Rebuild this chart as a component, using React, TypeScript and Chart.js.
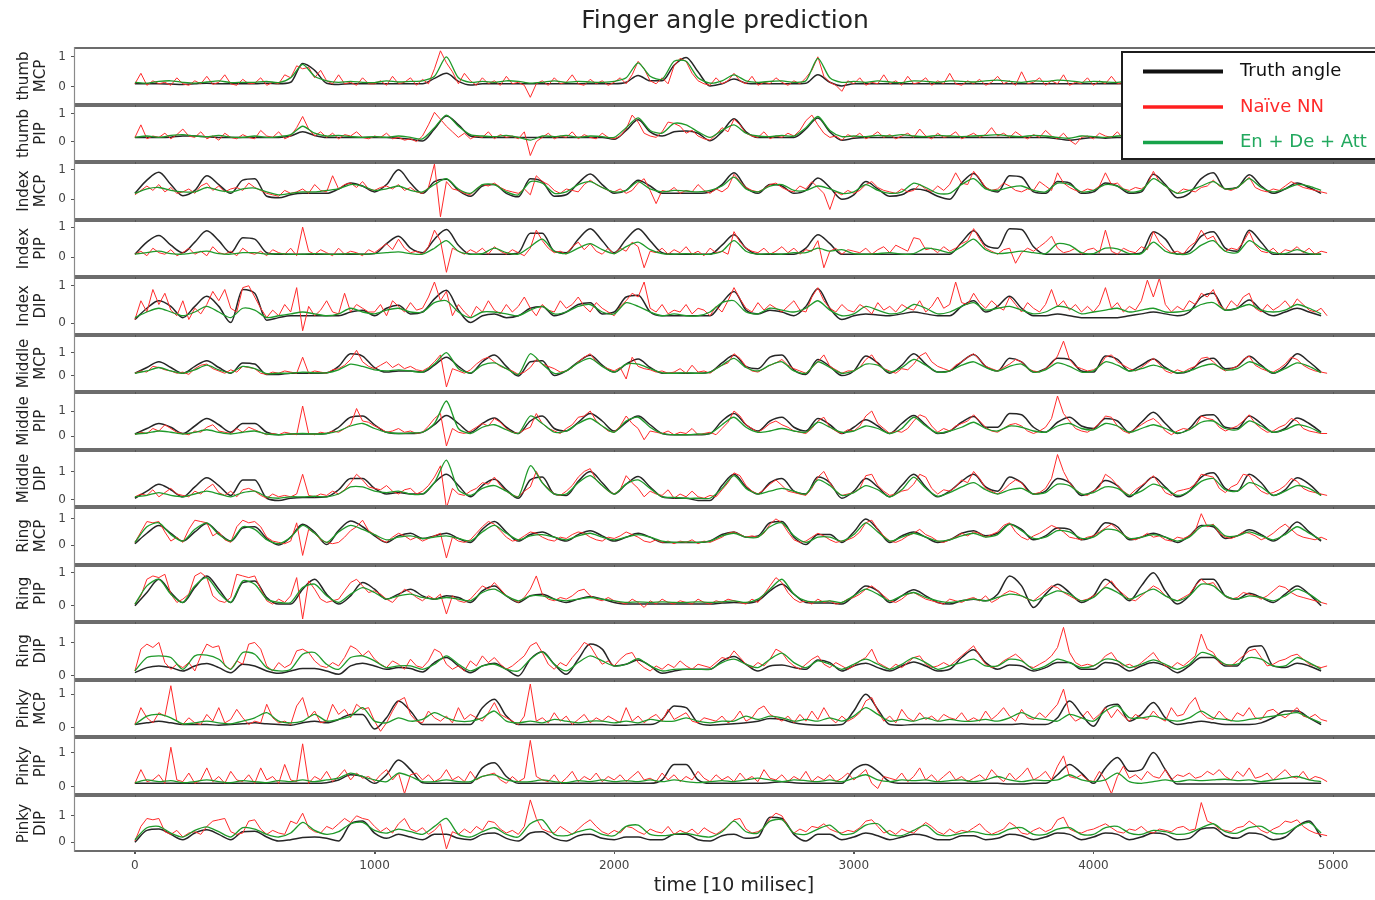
import React, { useEffect, useRef } from 'react';
import { Chart, registerables } from 'chart.js';

Chart.register(...registerables);

// sampling grids (time in 10 ms units)
const TIME_50 = Array.from({ length: 100 }, (_, i) => i * 50);
const TIME_25 = Array.from({ length: 200 }, (_, i) => i * 25);

const X_TICKS = [0, 1000, 2000, 3000, 4000, 5000];
const Y_TICKS = [0, 1];
const TITLE = 'Finger angle prediction';
const X_TITLE = 'time [10 milisec]';
const LEGEND_LABELS = ['Truth angle', 'Naïve NN', 'En + De + Att'];

// ---------------- thumb MCP ----------------
const THUMB_MCP_TRUTH = [
.1,.1,.1,.09,.08,.1,.12,.1,.1,.1,
.1,.12,.1,.15,.78,.55,.12,.08,.1,.1,
.1,.1,.1,.1,.1,.28,.45,.18,.06,.1,
.1,.1,.1,.1,.1,.1,.1,.1,.1,.1,
.1,.15,.38,.2,.2,.72,.98,.5,.03,.1,
.26,.12,.1,.1,.1,.1,.12,.4,.15,.03,
.1,.1,.1,.1,.1,.1,.1,.1,.1,.1,
.1,.1,.1,.1,.1,.1,.1,.1,.1,.1,
.1,.1,.1,.1,.1,.1,.1,.1,.1,.1,
.1,.1,.1,.1,.1,.1,.1,.1,.1,.1];
const THUMB_MCP_ATT = [
.15,.12,.18,.2,.15,.12,.16,.2,.14,.15,
.15,.18,.14,.3,.75,.35,.2,.15,.18,.15,
.14,.2,.16,.18,.2,.35,1.0,.3,.15,.18,
.15,.2,.18,.12,.15,.2,.15,.18,.16,.15,
.18,.3,.8,.35,.25,.85,.85,.3,.12,.2,
.4,.2,.15,.18,.2,.15,.2,.95,.3,.15,
.18,.15,.2,.16,.14,.2,.18,.15,.2,.18,
.16,.2,.22,.18,.15,.2,.18,.22,.2,.15,
.18,.16,.15,.2,.18,.16,.2,.15,.18,.16,
.15,.18,.2,.16,.15,.18,.16,.2,.15,.14];
const THUMB_MCP_NAIVE = [
.1,.45,.05,.2,.1,.15,.05,.3,.1,.05,.2,.1,.35,.08,.15,.4,.1,.05,.25,.1,
.12,.3,.05,.15,.1,.4,.3,.7,.6,.65,.3,.55,.2,.1,.4,.1,.15,.05,.3,.1,
.1,.2,.05,.35,.1,.15,.3,.05,.25,.1,.6,1.2,.8,.5,.1,.45,.2,.05,.3,.1,
.2,.05,.35,.1,.15,.05,-.35,.1,.2,.05,.3,.1,.15,.4,.1,.05,.25,.1,.2,.05,
.15,.3,.1,.4,.85,.6,.2,.1,.3,.1,.7,.95,.85,.45,.2,.1,.05,.3,.1,.2,
.45,.2,.1,.35,.05,.15,.1,.3,.15,.05,.2,.1,.3,.55,1.0,.35,.15,.05,-.15,.2,
.1,.3,.05,.15,.1,.4,.1,.2,.05,.35,.1,.15,.3,.05,.2,.1,.45,.1,.05,.2,
.1,.25,.05,.15,.35,.1,.2,.05,.5,.1,.15,.3,.05,.2,.1,.4,.05,.15,.1,.3,
.05,.2,.1,.35,.1,.15,.05,.3,.1,.2,.05,.4,.1,.15,.3,.05,.2,.1,.3,.1,
.15,.05,.35,.1,.2,.05,.3,.1,.15,.4,.05,.2,.1,.3,.05,.15,.1,.25,.05,.1];

// ---------------- thumb PIP ----------------
const THUMB_PIP_TRUTH = [
.15,.15,.15,.16,.2,.2,.17,.15,.15,.15,
.15,.15,.15,.2,.35,.22,.15,.15,.15,.15,
.15,.15,.12,.08,.02,.45,.92,.6,.2,.15,
.15,.15,.15,.15,.15,.15,.15,.15,.15,.15,
.08,.4,.78,.35,.2,.35,.38,.3,.03,.35,
.82,.35,.15,.15,.15,.15,.45,.85,.35,.05,
.12,.15,.15,.15,.15,.15,.15,.15,.15,.15,
.15,.15,.15,.15,.15,.15,.15,.1,.05,.1,
.15,.12,.15,.15,.15,.15,.15,.15,.15,.15,
.15,.15,.15,.15,.15,.15,.15,.15,.15,.15];
const THUMB_PIP_ATT = [
.15,.2,.15,.22,.25,.2,.18,.22,.16,.15,
.2,.15,.18,.25,.55,.3,.2,.22,.18,.15,
.18,.15,.2,.15,.1,.5,.95,.55,.25,.2,
.18,.22,.15,.05,.2,.18,.22,.15,.2,.18,
.15,.5,.85,.4,.3,.65,.6,.35,.15,.4,
.6,.3,.2,.18,.22,.2,.5,.9,.4,.18,
.2,.18,.22,.2,.25,.2,.18,.22,.2,.18,
.2,.22,.25,.2,.18,.22,.2,.15,.12,.2,
.18,.15,.2,.22,.18,.2,.22,.18,.2,.18,
.2,.18,.22,.2,.18,.2,.22,.18,.2,.18];
const THUMB_PIP_NAIVE = [
.15,.6,.1,.2,.15,.3,.1,.25,.45,.2,.15,.35,.1,.2,.05,.3,.15,.1,.25,.15,
.1,.4,.2,.15,.35,.1,.2,.5,.9,.45,.2,.35,.15,.3,.1,.25,.2,.35,.15,.1,
.2,.15,.3,.1,.15,.05,.1,.0,.2,.6,1.05,.8,.55,.35,.15,.3,.1,.2,.15,.35,
.1,.25,.15,.2,.1,.35,-.5,.0,.15,.3,.1,.2,.15,.35,.1,.25,.15,.1,.3,.15,
.1,.2,.45,.95,.7,.3,.2,.15,.35,.7,.65,.55,.3,.4,.2,.1,.05,.25,.5,.35,
.8,.6,.3,.2,.15,.35,.1,.2,.15,.3,.2,.4,.75,.95,.6,.3,.15,.2,.05,.25,
.15,.3,.1,.2,.35,.15,.25,.1,.2,.3,.15,.45,.2,.1,.3,.15,.2,.35,.1,.2,
.3,.15,.25,.5,.2,.3,.15,.35,.2,.1,.25,.15,.4,.2,.1,.3,.05,-.1,.15,.2,
.1,.3,.2,.15,.35,.1,.25,.2,.15,.3,.1,.2,.35,.15,.1,.3,.2,.15,.25,.1,
.2,.15,.3,.1,.25,.2,.15,.35,.1,.2,.3,.15,.1,.25,.2,.15,.3,.1,.2,.15];

// ---------------- Index MCP ----------------
const INDEX_MCP_TRUTH = [
.2,.65,.92,.5,.12,.3,.8,.5,.2,.65,
.7,.1,.05,.15,.2,.2,.2,.35,.55,.45,
.25,.5,1.0,.55,.2,.6,.68,.3,.1,.45,
.5,.2,.08,.7,.6,.1,.15,.55,.86,.5,
.2,.3,.65,.45,.2,.2,.2,.2,.25,.5,
.9,.4,.2,.5,.45,.2,.3,.72,.4,.0,
.15,.6,.35,.1,.15,.35,.3,.1,.0,.55,
.88,.4,.25,.8,.75,.25,.2,.6,.55,.2,
.25,.55,.45,.2,.25,.85,.5,.05,.2,.7,
.9,.35,.4,.83,.45,.2,.35,.55,.4,.2];
const INDEX_MCP_ATT = [
.2,.35,.4,.3,.25,.25,.4,.3,.25,.35,
.38,.25,.15,.2,.25,.25,.3,.35,.5,.45,
.3,.35,.45,.3,.25,.5,.7,.35,.2,.5,
.5,.25,.15,.6,.55,.2,.25,.5,.6,.4,
.25,.3,.6,.35,.25,.3,.28,.25,.3,.45,
.75,.35,.25,.45,.5,.3,.3,.45,.35,.2,
.25,.5,.3,.2,.25,.55,.4,.2,.2,.5,
.7,.35,.3,.4,.45,.3,.25,.55,.5,.25,
.3,.5,.45,.25,.3,.7,.45,.2,.3,.45,
.6,.35,.4,.7,.4,.25,.35,.5,.45,.3];
const INDEX_MCP_NAIVE = [
.15,.3,.45,.3,.5,.25,.4,.2,.25,.35,.2,.45,.55,.3,.45,.25,.35,.4,.3,.55,
.4,.3,.2,.15,.1,.3,.2,.25,.35,.2,.5,.3,.25,.8,.35,.5,.55,.4,.6,.35,
.3,.4,.45,.35,.5,.3,.4,.25,.2,.4,1.2,-.6,.6,.35,.3,.2,.15,.35,.5,.45,
.55,.4,.3,.25,.2,.35,.15,.8,.6,.5,.3,.2,.35,.3,.25,.5,.65,.5,.4,.3,
.25,.35,.2,.3,.55,.7,.3,-.15,.3,.25,.4,.2,.3,.25,.5,.3,.2,.35,.25,.4,
.85,.6,.4,.3,.25,.35,.5,.55,.4,.3,.25,.45,.35,.6,.4,.2,-.35,.25,.15,.3,
.2,.3,.5,.6,.4,.3,.25,.2,.35,.25,.3,.5,.35,.25,.45,.3,.5,.9,.55,.5,
.95,.7,.4,.3,.35,.55,.45,.3,.25,.35,.3,.6,.45,.3,.9,.55,.4,.3,.25,.35,
.3,.45,.9,.5,.55,.35,.3,.4,.35,.5,.95,.6,.45,.3,.2,.35,.3,.25,.4,.45,
.65,.45,.35,.3,.4,.55,.75,.4,.3,.25,.35,.3,.45,.6,.5,.4,.35,.3,.25,.2];

// ---------------- Index PIP ----------------
const INDEX_PIP_TRUTH = [
.1,.5,.72,.4,.15,.5,.88,.55,.15,.65,
.6,.15,.1,.1,.1,.1,.1,.1,.1,.1,
.12,.45,.7,.3,.15,.6,.92,.4,.1,.1,
.1,.1,.15,.8,.8,.2,.15,.6,.95,.55,
.15,.6,.95,.55,.15,.1,.1,.1,.1,.4,
.75,.3,.1,.1,.1,.1,.3,.75,.45,.1,
.1,.1,.1,.1,.1,.1,.1,.1,.1,.5,
.88,.4,.3,.95,.92,.35,.1,.1,.1,.1,
.1,.1,.1,.1,.15,.85,.6,.1,.2,.7,
.85,.3,.2,.9,.5,.1,.1,.1,.1,.1];
const INDEX_PIP_ATT = [
.1,.15,.2,.12,.1,.15,.2,.12,.1,.15,
.15,.1,.12,.1,.1,.12,.1,.1,.12,.1,
.12,.15,.18,.12,.1,.3,.55,.2,.1,.12,
.3,.15,.1,.35,.6,.2,.12,.3,.45,.25,
.12,.35,.5,.25,.12,.1,.12,.1,.1,.2,
.55,.2,.1,.12,.1,.15,.15,.3,.2,.25,
.12,.1,.12,.15,.1,.12,.3,.25,.15,.35,
.6,.25,.12,.15,.2,.15,.12,.45,.4,.15,
.12,.3,.28,.12,.12,.5,.2,.1,.12,.4,
.55,.2,.15,.55,.3,.15,.12,.25,.12,.1];
const INDEX_PIP_NAIVE = [
.1,.2,.05,.3,.15,.1,.25,.05,.15,.3,.1,.2,.05,.35,.15,.1,.2,.05,.3,.15,
.1,.2,.05,.25,.15,.1,.3,.05,1.0,.2,.1,.25,.15,.05,.3,.1,.2,.15,.05,.25,
.15,.3,.45,.25,.6,.3,.15,.2,.1,.35,.9,.55,-.5,.3,.2,.1,.25,.15,.3,.1,
.35,.2,.1,.25,.15,.05,.3,.9,.55,.3,.15,.2,.1,.35,.5,.25,.45,.2,.1,.3,
.1,.3,.2,.5,.35,-.35,.2,.15,.3,.1,.25,.15,.35,.1,.2,.05,.3,.15,.2,.1,
.85,.5,.3,.2,.15,.3,.1,.2,.35,.15,.3,.1,.25,.2,.55,-.35,.2,.3,.1,.25,
.2,.15,.3,.1,.25,.35,.15,.4,.3,.2,.65,.6,.25,.3,.15,.35,.2,.3,.45,.55,
.95,.6,.3,.2,.1,.25,.3,-.2,.15,.3,.2,.35,.5,.7,.3,.15,.2,.3,.1,.25,
.3,.15,.9,.2,.1,.3,.2,.15,.35,.25,.85,.5,.3,.15,.2,.1,.35,.5,.9,.6,
.7,.35,.2,.3,.25,.5,.85,.4,.2,.15,.3,.1,.25,.2,.35,.15,.3,.1,.2,.15];

// ---------------- Index DIP ----------------
const INDEX_DIP_TRUTH = [
.1,.4,.6,.45,.15,.45,.72,.45,.02,.9,
.8,.08,.15,.2,.2,.2,.2,.2,.3,.35,
.2,.4,.48,.25,.3,.65,.88,.35,.02,.2,
.25,.15,.2,.4,.45,.2,.3,.5,.55,.25,
.3,.7,.75,.3,.2,.2,.2,.2,.2,.55,
.85,.35,.25,.35,.3,.2,.45,.92,.4,.1,
.2,.25,.22,.2,.25,.3,.25,.2,.2,.45,
.6,.3,.45,.72,.4,.2,.2,.25,.2,.15,
.15,.15,.15,.2,.25,.3,.25,.2,.3,.7,
.8,.35,.4,.62,.35,.2,.3,.4,.3,.2];
const INDEX_DIP_ATT = [
.15,.3,.4,.3,.2,.3,.45,.3,.15,.4,
.35,.15,.2,.25,.3,.25,.2,.25,.4,.3,
.25,.35,.4,.3,.3,.55,.6,.3,.15,.3,
.3,.25,.2,.35,.45,.25,.3,.45,.5,.3,
.25,.55,.45,.3,.2,.25,.2,.2,.3,.55,
.6,.3,.25,.4,.35,.3,.4,.6,.35,.2,
.25,.45,.35,.25,.3,.5,.4,.25,.3,.45,
.55,.35,.4,.45,.35,.25,.3,.45,.4,.25,
.3,.35,.4,.3,.35,.4,.3,.3,.35,.5,
.55,.35,.4,.5,.35,.3,.35,.5,.4,.25];
const INDEX_DIP_NAIVE = [
.1,.6,.3,.9,.5,.8,.35,.2,.6,.1,.4,.25,.5,.85,.6,.9,.4,.3,.95,1.0,
.7,.4,.15,.35,.2,.5,.3,.95,-.2,.45,.2,.35,.6,.3,.25,.8,.3,.5,.4,.3,
.3,.5,.2,.6,.45,.3,.55,.35,.4,.7,1.1,.6,.85,.2,.5,.3,.15,.45,.3,.6,
.35,.25,.5,.3,.45,.7,.4,.2,.5,.35,.3,.6,.4,.5,.7,.45,.3,.55,.4,.3,
.2,.45,.6,.8,.7,1.1,.4,.3,.5,.25,.35,.3,.5,.25,.4,.35,.2,.45,.3,.6,
.95,.65,.4,.3,.55,.35,.5,.4,.3,.45,.6,.35,.3,.7,.95,.6,.4,.3,.5,.35,
.3,.5,.4,.25,.55,.35,.45,.3,.5,.4,.35,.6,.3,.45,.7,.4,.5,1.1,.55,.5,
.8,.55,.4,.6,.45,.35,.7,.5,.3,.55,.4,.3,.5,.9,.45,.6,.35,.5,.3,.45,
.3,.5,.95,.4,.55,.3,.45,.35,.6,1.15,.7,1.2,.5,.3,.45,.35,.6,.5,.8,.7,
.9,.5,.35,.6,.45,.7,.8,.4,.3,.5,.35,.45,.6,.4,.65,.5,.35,.3,.4,.2];

// ---------------- Middle MCP ----------------
const MIDDLE_MCP_TRUTH = [
.1,.35,.6,.35,.1,.4,.65,.35,.1,.55,
.5,.05,.05,.1,.1,.1,.12,.4,.95,.85,
.35,.15,.2,.2,.15,.45,.8,.4,.1,.6,
.9,.4,-.02,.6,.65,.0,.2,.6,.88,.45,
.15,.5,.72,.35,.1,.1,.1,.1,.15,.55,
.88,.4,.3,.8,.9,.25,.05,.7,.4,.0,
.2,.85,.55,.1,.45,.95,.5,.15,.2,.6,
.92,.4,.2,.75,.6,.15,.3,.75,.7,.2,
.15,.85,.7,.2,.45,.72,.35,.1,.2,.6,
.75,.3,.4,.84,.45,.1,.4,.95,.6,.15];
const MIDDLE_MCP_ATT = [
.1,.2,.35,.2,.1,.25,.45,.25,.12,.4,
.3,.08,.1,.1,.15,.12,.12,.25,.5,.4,
.25,.2,.25,.2,.15,.5,1.0,.3,.12,.45,
.55,.3,.05,.95,.5,.1,.2,.55,.75,.4,
.15,.5,.5,.3,.12,.1,.12,.1,.15,.45,
.75,.35,.2,.45,.6,.2,.1,.6,.35,.1,
.2,.5,.45,.15,.35,.7,.45,.15,.2,.45,
.6,.35,.2,.4,.5,.15,.25,.55,.4,.15,
.2,.6,.45,.2,.3,.45,.3,.12,.2,.4,
.5,.25,.3,.6,.4,.12,.3,.55,.4,.12];
const MIDDLE_MCP_NAIVE = [
.1,.2,.15,.4,.35,.25,.2,.1,.15,.05,.3,.45,.5,.3,.2,.1,.25,.15,.4,.35,
.3,.1,.05,.15,.1,.2,.15,.1,.8,.1,.2,.15,.1,.25,.3,.45,.7,1.1,.6,.4,
.3,.45,.6,.35,.5,.3,.4,.25,.2,.35,.6,.9,-.5,.3,.2,.1,.25,.5,.7,.8,
.6,.4,.3,.2,.05,.15,.35,.7,.5,.4,.3,.15,.2,.35,.6,.8,.95,.6,.4,.3,
.2,.35,-.15,.8,.4,.3,.25,.15,.2,.1,.15,.3,.1,.45,.15,.2,.1,.3,.45,.55,
.95,.75,.4,.2,.15,.3,.45,.55,.7,.45,.3,.2,.1,.35,.6,.9,.4,.25,.1,.2,
.2,.35,.7,.9,.5,.3,.2,.1,.3,.25,.5,.85,1.0,.6,.4,.3,.2,.45,.6,.8,
.95,.7,.4,.3,.2,.35,.5,.7,.6,.3,.2,.15,.3,.5,.85,1.5,.7,.4,.3,.2,
.25,.4,.8,.9,.6,.45,.3,.2,.35,.55,.75,.5,.2,.1,.25,.15,.3,.4,.75,.8,
.6,.35,.2,.3,.4,.7,.85,.45,.3,.2,.15,.3,.5,.8,.7,.45,.3,.2,.15,.1];

// ---------------- Middle PIP ----------------
const MIDDLE_PIP_TRUTH = [
.08,.3,.5,.35,.1,.4,.7,.45,.15,.5,
.5,.15,.05,.08,.08,.08,.1,.35,.75,.8,
.45,.15,.1,.1,.15,.45,.82,.5,.15,.5,
.72,.35,.1,.6,.8,.3,.2,.55,.9,.6,
.2,.55,.8,.45,.1,.05,.05,.05,.1,.6,
.9,.45,.2,.6,.75,.35,.2,.7,.45,.1,
.35,.65,.4,.1,.5,.82,.45,.1,.2,.55,
.78,.35,.35,.9,.85,.35,.15,.55,.75,.4,
.3,.7,.6,.15,.55,.95,.5,.1,.3,.8,
.85,.35,.3,.8,.5,.15,.3,.72,.5,.15];
const MIDDLE_PIP_ATT = [
.08,.12,.2,.15,.08,.15,.25,.15,.08,.15,
.2,.08,.05,.08,.1,.08,.1,.2,.4,.5,
.3,.15,.1,.12,.15,.5,1.4,.3,.1,.35,
.45,.25,.1,.8,.5,.15,.2,.5,.7,.4,
.15,.6,.75,.35,.1,.05,.05,.08,.1,.45,
.75,.35,.15,.2,.3,.2,.15,.55,.35,.15,
.2,.4,.3,.1,.3,.75,.4,.12,.2,.35,
.55,.3,.2,.4,.35,.2,.15,.4,.5,.3,
.25,.5,.4,.15,.3,.45,.3,.12,.25,.55,
.6,.3,.25,.6,.4,.15,.25,.45,.35,.12];
const MIDDLE_PIP_NAIVE = [
.05,.15,.1,.3,.2,.45,.3,.15,.1,.05,.2,.15,.35,.45,.2,.15,.1,.3,.15,.35,
.25,.15,.05,.1,.05,.15,.1,.05,1.2,.1,.05,.15,.1,.2,.15,.3,.45,1.1,.6,.55,
.4,.3,.15,.2,.3,.15,.2,.1,.15,.4,.7,.9,-.4,.3,.15,.1,.2,.35,.5,.4,
.7,.55,.3,.15,.1,.25,.35,.9,.5,.3,.2,.1,.3,.45,.75,.8,1.0,.6,.4,.2,
.15,.4,.8,.5,.3,-.15,.2,.15,.1,.2,.05,.15,.1,.3,.05,.1,.15,.05,.3,.55,
1.0,.8,.45,.3,.15,.3,.5,.6,.45,.35,.2,.15,.1,.3,.6,.75,.35,.2,.1,.25,
.2,.4,.8,1.0,.5,.3,.1,.2,.15,.3,.6,.85,.75,.4,.15,.3,.2,.4,.5,.6,
.85,.6,.35,.2,.15,.3,.45,.5,.4,.2,.1,.2,.35,.7,1.6,.9,.6,.3,.2,.15,
.3,.5,.8,.75,.4,.2,.1,.3,.45,.6,.7,.5,.2,.05,.2,.3,.25,.4,.8,.7,
.65,.35,.2,.3,.4,.6,.85,.5,.3,.15,.2,.35,.45,.7,.6,.3,.2,.15,.1,.1];

// ---------------- Middle DIP ----------------
const MIDDLE_DIP_TRUTH = [
.05,.3,.55,.35,.1,.45,.78,.5,.15,.7,
.7,.05,-.03,.05,.08,.08,.1,.35,.75,.75,
.4,.2,.25,.2,.2,.6,.9,.5,.1,.5,
.72,.35,.05,.7,.8,.2,.15,.65,1.0,.6,
.2,.55,.82,.45,.1,.05,.05,-.03,-.03,.5,
.9,.45,.2,.6,.75,.3,.2,.8,.6,.05,
.3,.75,.45,.1,.5,.9,.45,.1,.3,.65,
.9,.45,.3,.8,.6,.2,.3,.75,.6,.15,
.3,.68,.5,.1,.45,.8,.45,.1,.3,.8,
.95,.4,.3,.9,.6,.15,.35,.78,.55,.15];
const MIDDLE_DIP_ATT = [
.1,.15,.25,.15,.1,.2,.3,.2,.1,.25,
.3,.1,.05,.1,.1,.12,.1,.2,.45,.45,
.3,.25,.3,.2,.2,.6,1.4,.35,.15,.4,
.5,.3,.1,1.2,.6,.2,.2,.6,.85,.5,
.2,.55,.7,.4,.1,.08,.05,.05,.05,.4,
.85,.4,.2,.3,.4,.3,.2,.7,.5,.15,
.25,.5,.35,.1,.35,.8,.4,.12,.25,.45,
.6,.35,.2,.35,.4,.2,.25,.55,.5,.2,
.25,.45,.4,.15,.3,.55,.4,.15,.3,.65,
.75,.35,.3,.6,.45,.15,.3,.5,.4,.15];
const MIDDLE_DIP_NAIVE = [
.1,.2,.15,.35,.1,.25,.4,.2,.15,.1,.3,.2,.4,.55,.25,.15,.3,.1,.35,.4,
.3,.15,.05,.2,.1,.15,.1,.2,.9,.15,.1,.2,.15,.3,.2,.35,.6,.9,.7,.45,
.4,.35,.5,.3,.2,.35,.4,.2,.3,.5,.8,1.2,-.3,.4,.2,.15,.3,.4,.6,.55,
.8,.5,.3,.15,.1,.3,.45,1.0,.6,.4,.2,.15,.3,.5,.8,1.0,1.1,.7,.5,.3,
.2,.35,.85,.6,.4,.1,.3,.2,.15,.35,.05,.2,.1,.3,.1,.05,.15,.1,.35,.6,
.95,.85,.5,.3,.2,.35,.55,.7,.5,.3,.25,.2,.15,.4,.8,1.0,.6,.3,.15,.2,
.25,.4,.85,.9,.5,.3,.15,.2,.3,.35,.55,.9,.8,.4,.2,.35,.3,.45,.7,.6,
1.0,.75,.4,.3,.2,.35,.55,.7,.6,.3,.2,.25,.4,.75,1.6,1.0,.6,.35,.2,.15,
.3,.45,.9,.75,.5,.3,.15,.35,.5,.65,.85,.55,.25,.15,.3,.35,.4,.55,.9,.85,
.8,.4,.25,.45,.55,.9,.85,.5,.3,.2,.25,.35,.5,.75,.65,.4,.3,.25,.2,.15];

// ---------------- Ring MCP ----------------
const RING_MCP_TRUTH = [
.05,.45,.75,.45,.15,.5,.82,.45,.15,.65,
.7,.25,.0,.3,.8,.5,.02,.55,.92,.7,
.35,.1,.35,.45,.25,.35,.45,.25,.1,.6,
.9,.5,.15,.4,.5,.3,.15,.4,.55,.35,
.15,.3,.45,.3,.1,.1,.1,.1,.15,.4,
.5,.3,.35,.85,.9,.3,.02,.4,.4,.1,
.5,1.0,.6,.1,.35,.5,.3,.1,.2,.45,
.55,.35,.45,.8,.6,.2,.35,.65,.6,.2,
.35,.85,.7,.2,.3,.45,.3,.1,.35,.75,
.7,.25,.35,.58,.4,.15,.45,.88,.5,.15];
const RING_MCP_ATT = [
.1,.7,.85,.4,.15,.6,.85,.4,.15,.7,
.6,.2,.05,.3,.75,.45,.1,.5,.75,.6,
.4,.2,.3,.35,.25,.3,.35,.25,.15,.5,
.75,.45,.2,.35,.4,.3,.2,.35,.45,.3,
.2,.3,.4,.3,.15,.1,.12,.1,.15,.35,
.45,.3,.3,.7,.85,.35,.1,.3,.3,.15,
.4,.85,.5,.15,.3,.45,.3,.15,.2,.35,
.45,.3,.4,.8,.55,.25,.3,.55,.5,.25,
.3,.6,.55,.25,.3,.4,.3,.15,.3,.7,
.75,.35,.35,.5,.35,.2,.4,.7,.45,.2];
const RING_MCP_NAIVE = [
.1,.5,.9,.85,.9,.5,.15,.3,.1,.6,.95,.9,.85,.35,.5,.2,.1,.7,.95,.85,
.9,.7,.3,.15,.1,.05,.15,.85,-.4,.6,.45,.2,.1,.05,.1,.3,.55,.7,.95,.55,
.4,.2,.1,.3,.45,.35,.2,.3,.15,.25,.35,.45,-.5,.3,.15,.1,.2,.45,.7,.9,
.8,.55,.3,.15,.2,.35,.5,.45,.3,.2,.15,.3,.25,.4,.5,.45,.3,.2,.15,.3,
.25,.35,.5,.4,.3,.15,.1,.2,.1,.15,.05,.15,.1,.2,.05,.15,.1,.2,.3,.45,
.5,.4,.3,.35,.3,.45,.8,1.0,.85,.5,.2,.1,.15,.3,.45,.35,.2,.1,.15,.2,
.3,.5,.85,.95,.6,.35,.15,.1,.2,.35,.45,.6,.4,.3,.15,.1,.2,.3,.45,.35,
.5,.45,.3,.4,.5,.75,.85,.5,.3,.2,.35,.45,.6,.75,.65,.5,.3,.25,.2,.3,
.35,.5,.65,.8,.6,.4,.25,.2,.3,.45,.3,.35,.2,.15,.3,.25,.35,.55,1.2,.7,
.8,.45,.3,.25,.35,.5,.45,.35,.2,.3,.45,.65,.8,.6,.4,.3,.25,.2,.3,.2];

// ---------------- Ring PIP ----------------
const RING_PIP_TRUTH = [
.0,.4,.8,.4,.1,.55,.9,.5,.1,.7,
.75,.25,.05,.05,.5,.8,.35,.05,.3,.7,
.5,.2,.35,.5,.3,.2,.3,.25,.1,.45,
.6,.3,.1,.3,.35,.2,.1,.2,.28,.2,
.1,.05,.05,.05,.05,.05,.05,.05,.05,.08,
.1,.08,.15,.45,.65,.35,.1,.08,.08,.05,
.3,.6,.45,.1,.3,.48,.3,.1,.05,.15,
.2,.15,.35,.9,.6,-.05,.35,.65,.4,.1,
.3,.8,.5,.15,.6,1.0,.45,.05,.3,.8,
.8,.3,.2,.38,.25,.1,.35,.6,.35,.0];
const RING_PIP_ATT = [
.05,.6,.8,.35,.1,.6,.85,.4,.1,.75,
.65,.2,.1,.1,.55,.65,.3,.1,.35,.55,
.4,.2,.3,.35,.25,.2,.25,.2,.15,.4,
.5,.3,.15,.3,.3,.2,.15,.2,.25,.2,
.15,.1,.12,.1,.12,.1,.1,.12,.1,.12,
.15,.1,.2,.5,.8,.35,.15,.12,.15,.1,
.3,.5,.35,.15,.3,.4,.25,.15,.1,.15,
.2,.15,.25,.35,.3,.15,.3,.45,.35,.15,
.25,.55,.4,.2,.35,.5,.3,.15,.3,.65,
.6,.3,.2,.3,.25,.15,.3,.5,.35,.1];
const RING_PIP_NAIVE = [
.05,.3,.8,.9,.85,.95,.35,.1,.2,.35,.9,1.0,.85,.3,.15,.1,.25,.95,.9,.85,
.9,.5,.15,.05,.2,.1,.3,.85,-.4,.75,.5,.2,.1,.15,.2,.45,.7,.8,.6,.4,
.45,.35,.2,.1,.3,.5,.4,.25,.15,.3,.2,.35,-.25,.3,.15,.1,.2,.4,.6,.5,
.7,.5,.3,.2,.1,.25,.5,.9,.35,.2,.15,.25,.2,.3,.45,.5,.3,.2,.15,.25,
.15,.1,.05,.2,.1,-.05,.15,.05,.2,.1,.05,.15,.1,.05,.2,.1,.05,.15,.1,.2,
.15,.1,.05,.2,.1,.35,.6,.85,.7,.4,.2,.1,.15,.05,.2,.1,.15,.05,.1,.2,
.25,.35,.5,.6,.45,.3,.15,.1,.2,.35,.4,.3,.2,.15,.1,.05,.2,.15,.1,.2,
.25,.15,.3,.1,.2,.35,.45,.4,.3,.2,.15,.3,.45,.6,.55,.4,.3,.2,.15,.2,
.3,.4,.6,.75,.5,.35,.2,.15,.3,.45,.6,.5,.3,.2,.15,.25,.35,.6,.8,.65,
.7,.45,.3,.2,.25,.4,.35,.3,.2,.3,.45,.6,.55,.4,.3,.25,.2,.15,.1,.05];

// ---------------- Ring DIP ----------------
const RING_DIP_TRUTH = [
.1,.25,.3,.25,.15,.3,.37,.25,.1,.35,
.3,.15,.08,.15,.22,.22,.15,.05,.3,.38,
.3,.2,.25,.22,.12,.4,.55,.3,.1,.3,
.38,.2,.0,.5,.72,.35,.05,.5,.95,.8,
.3,.35,.48,.3,.08,.15,.2,.2,.2,.45,
.58,.35,.15,.3,.33,.25,.2,.48,.4,.15,
.3,.38,.25,.15,.3,.42,.3,.15,.2,.55,
.78,.4,.2,.33,.3,.15,.25,.4,.4,.2,
.2,.4,.35,.15,.3,.4,.3,.1,.3,.55,
.55,.3,.3,.85,.9,.3,.25,.38,.3,.15];
const RING_DIP_ATT = [
.15,.55,.6,.55,.2,.6,.62,.5,.2,.7,
.65,.25,.15,.2,.65,.7,.35,.2,.55,.6,
.45,.25,.3,.3,.2,.35,.6,.35,.15,.3,
.35,.2,.15,.5,.72,.35,.15,.4,.6,.45,
.3,.35,.52,.3,.15,.2,.2,.2,.2,.4,
.5,.35,.25,.5,.68,.4,.25,.45,.35,.2,
.35,.5,.35,.2,.35,.55,.4,.2,.3,.4,
.5,.3,.3,.5,.45,.2,.3,.5,.4,.25,
.3,.5,.45,.25,.35,.48,.35,.2,.35,.7,
.6,.35,.35,.55,.5,.3,.3,.55,.4,.2];
const RING_DIP_NAIVE = [
.15,.8,.95,.85,1.0,.4,.2,.35,.25,.4,.15,.6,.95,.85,.9,.3,.2,.45,.35,.95,
1.0,.8,.3,.15,.4,.25,.35,.75,.8,.7,.45,.3,.25,.4,.3,.55,.9,.8,.6,.75,
.5,.35,.25,.45,.35,.2,.5,.3,.25,.45,.8,.7,.35,.2,.3,.15,.45,.3,.6,.4,
.55,.35,.2,.3,.45,.6,.9,1.0,.7,.35,.2,.4,.3,.55,.75,1.0,.9,.6,.35,.45,
.3,.5,.65,.7,.4,.25,.15,.3,.2,.35,.25,.45,.3,.2,.35,.3,.25,.4,.55,.5,
.75,.55,.35,.25,.4,.3,.5,.8,.7,.45,.3,.2,.35,.5,.6,.35,.25,.4,.3,.2,
.3,.45,.55,.8,.4,.3,.2,.35,.25,.4,.55,.6,.35,.25,.3,.4,.3,.45,.6,.75,
.9,.6,.35,.25,.3,.45,.55,.65,.5,.3,.25,.35,.45,.6,.85,1.45,.7,.4,.3,.35,
.3,.4,.6,.7,.45,.3,.35,.25,.4,.55,.7,.45,.3,.25,.4,.3,.45,.6,1.25,.8,
.7,.4,.35,.3,.45,.6,.75,.8,.55,.3,.35,.45,.5,.6,.65,.5,.35,.3,.25,.3];

// ---------------- Pinky MCP ----------------
const PINKY_MCP_TRUTH = [
.1,.15,.2,.15,.1,.1,.1,.08,.1,.12,
.15,.12,.1,.08,.15,.2,.15,.25,.4,.4,
-.03,.3,.8,.5,.1,.1,.1,.1,.1,.6,
.85,.35,.1,.1,.1,.1,.1,.1,.1,.1,
.08,.08,.1,.1,.25,.65,.6,.15,.08,.1,
.12,.15,.2,.28,.25,.15,.1,.08,.08,.1,
.5,1.0,.55,.1,.08,.1,.1,.1,.1,.1,
.1,.1,.1,.1,.12,.1,.1,.3,.8,.4,
.05,.6,.7,.2,.4,.75,.3,.1,.15,.2,
.15,.1,.1,.1,.15,.3,.5,.5,.3,.1];
const PINKY_MCP_ATT = [
.1,.35,.4,.3,.12,.15,.2,.15,.12,.2,
.3,.45,.2,.15,.2,.4,.2,.25,.35,.6,
.2,.15,.3,.2,.25,.45,.3,.2,.2,.3,
.5,.2,.15,.2,.15,.25,.2,.15,.2,.2,
.15,.2,.15,.25,.2,.2,.3,.2,.15,.2,
.2,.35,.25,.35,.3,.2,.25,.2,.3,.2,
.35,.6,.4,.2,.25,.2,.3,.2,.25,.2,
.2,.25,.2,.3,.45,.3,.25,.2,.4,.3,
.2,.5,.65,.3,.3,.35,.25,.2,.3,.5,
.3,.25,.2,.25,.3,.35,.4,.45,.3,.15];
const PINKY_MCP_NAIVE = [
.1,.6,.3,.15,.45,.35,1.25,.2,.1,.3,.15,.1,.4,.2,.6,.15,.25,.55,.3,.1,
.2,.15,.7,.3,.15,.2,.1,.65,.9,.3,.5,.15,.2,.7,.4,.55,.3,.7,.55,.6,
.2,-.1,.15,.5,.8,.9,.4,.2,.15,.5,.3,.2,.35,.15,.6,.25,.4,.3,.2,.45,
.75,.4,.3,.2,.1,.35,1.3,.2,.3,.15,.45,.2,.35,.1,.25,.4,.15,.3,.2,.35,
.25,.15,.6,.2,.35,.15,.3,.4,.2,.55,.25,.35,.45,.2,.15,.3,.25,.2,.35,.15,
.25,.5,.2,.3,.55,.65,.4,.3,.2,.35,.15,.4,.2,.5,.25,.6,.3,.15,.35,.2,
.3,.45,.8,.9,.5,.2,.35,.15,.55,.3,.2,.45,.25,.35,.2,.4,.3,.25,.45,.2,
.3,.2,.5,.25,.4,.6,.35,.2,.55,.3,.25,.45,.3,.5,.7,1.15,.4,.2,.3,.5,
.25,.4,.6,.3,.55,.35,.2,.4,.3,.25,.5,.3,.2,.6,.35,.4,.7,.9,.45,.3,
.25,.5,.3,.2,.45,.35,.6,.3,.25,.5,.55,.4,.3,.45,.6,.35,.3,.4,.25,.2];

// ---------------- Pinky PIP ----------------
const PINKY_PIP_TRUTH = [
.1,.1,.1,.1,.1,.1,.1,.1,.1,.1,
.1,.1,.1,.1,.1,.1,.12,.2,.35,.3,
.1,.35,.78,.5,.12,.1,.1,.1,.1,.55,
.7,.3,.1,.1,.1,.1,.1,.1,.1,.1,
.1,.1,.1,.1,.2,.65,.65,.2,.1,.1,
.1,.1,.1,.12,.15,.12,.1,.1,.1,.1,
.5,.65,.45,.15,.1,.1,.1,.1,.1,.1,
.1,.1,.1,.08,.08,.1,.1,.35,.65,.4,
.1,.55,.85,.45,.5,1.0,.5,.08,.08,.08,
.08,.08,.08,.08,.1,.1,.1,.1,.1,.1];
const PINKY_PIP_ATT = [
.12,.2,.15,.18,.12,.15,.2,.15,.12,.18,
.15,.12,.18,.15,.2,.15,.2,.25,.4,.3,
.2,.15,.4,.3,.15,.15,.2,.15,.15,.3,
.35,.2,.15,.15,.2,.15,.12,.18,.15,.2,
.15,.18,.15,.2,.15,.2,.15,.12,.15,.18,
.15,.2,.25,.2,.15,.2,.18,.15,.2,.15,
.25,.35,.2,.15,.2,.18,.2,.15,.18,.2,
.15,.2,.3,.2,.15,.2,.18,.2,.35,.2,
.15,.2,.4,.15,.1,.15,.2,.15,.2,.18,
.2,.22,.18,.2,.15,.2,.25,.3,.2,.15];
const PINKY_PIP_NAIVE = [
.1,.5,.15,.2,.35,.1,1.15,.2,.15,.4,.1,.2,.55,.15,.3,.1,.45,.2,.15,.35,
.1,.55,.2,.3,.1,.65,.2,.15,1.25,.1,.3,.2,.45,.15,.3,.5,.2,.4,.25,.3,
.15,.35,.5,.2,.4,-.2,.35,.4,.2,.35,.15,.25,.5,.2,.3,.15,.45,.2,.3,.35,
.4,.2,.1,.3,.15,.25,1.35,.3,.2,.15,.35,.1,.25,.45,.15,.3,.2,.4,.15,.3,
.2,.35,.15,.3,.45,.2,.25,.15,.4,.2,.35,.15,.3,.2,.45,.25,.15,.35,.2,.3,
.15,.4,.2,.3,.15,.5,.25,.2,.35,.15,.3,.2,.45,.15,.3,.2,.35,.15,.25,.4,
.2,.35,.5,.1,-.05,.3,.25,.2,.4,.15,.3,.55,.2,.35,.15,.3,.45,.2,.3,.15,
.25,.35,.2,.5,.3,.15,.4,.2,.35,.55,.2,.3,.45,.2,.6,.9,.3,.25,.35,.2,
.15,.45,.2,-.2,.3,.6,.25,.35,.2,.45,.3,.25,.5,.2,.35,.3,.4,.25,.3,.45,
.35,.5,.3,.2,.45,.3,.55,.25,.3,.4,.2,.35,.5,.3,.25,.45,.2,.3,.25,.15];

// ---------------- Pinky DIP ----------------
const PINKY_DIP_TRUTH = [
.0,.45,.5,.3,.1,.35,.47,.3,.1,.4,
.42,.2,.05,.1,.18,.2,.15,.05,.7,.8,
.35,.15,.3,.2,.1,.3,.3,.15,.1,.3,
.35,.15,.05,.35,.4,.15,.05,.25,.3,.15,
.1,.2,.2,.1,.1,.3,.3,.1,.05,.25,
.3,.15,.2,.95,.9,.3,.05,.3,.3,.1,
.2,.35,.25,.1,.2,.3,.25,.1,.1,.25,
.25,.1,.15,.3,.25,.1,.2,.35,.3,.1,
.2,.35,.3,.1,.2,.35,.3,.1,.15,.5,
.55,.25,.15,.35,.3,.1,.2,.6,.8,.2];
const PINKY_DIP_ATT = [
.1,.55,.6,.35,.2,.45,.58,.4,.2,.55,
.5,.3,.2,.35,.75,.45,.3,.4,.7,.75,
.45,.35,.5,.4,.3,.6,.9,.3,.2,.4,
.55,.3,.2,.7,.85,.3,.25,.4,.5,.3,
.25,.6,.65,.3,.25,.3,.35,.25,.2,.4,
.8,.4,.35,.8,.85,.35,.3,.5,.65,.3,
.35,.65,.7,.3,.25,.45,.65,.3,.25,.35,
.4,.3,.3,.5,.55,.3,.3,.5,.55,.3,
.3,.55,.6,.35,.3,.45,.4,.3,.35,.55,
.7,.4,.35,.55,.6,.35,.35,.6,.75,.35];
const PINKY_DIP_NAIVE = [
.05,.6,.9,.85,.9,.4,.3,.45,.2,.35,.4,.3,.6,.8,.85,.9,.4,.3,.35,.8,
.85,.5,.3,.45,.35,.3,.8,.7,1.1,.55,.4,.35,.6,.5,.7,.9,.75,1.0,.9,.85,
.6,.4,.55,.35,.7,.9,.5,.4,.55,.3,.45,.7,-.25,.4,.3,.5,.35,.6,.45,.8,
.75,.5,.35,.45,.3,.6,1.6,.9,.5,.4,.35,.6,.45,.3,.5,.7,.85,.6,.4,.3,
.45,.35,.6,.55,.4,.3,.5,.4,.35,.6,.3,.45,.35,.5,.3,.55,.4,.3,.45,.6,
.85,.9,.5,.35,.4,.55,.9,1.1,1.0,.6,.35,.5,.4,.6,.55,.7,.5,.4,.35,.45,
.4,.55,.8,.85,.6,.35,.45,.3,.5,.4,.35,.55,.75,.6,.4,.3,.5,.35,.45,.4,
.55,.7,.45,.3,.4,.5,.75,.6,.35,.3,.45,.55,.4,.5,.85,.95,.5,.4,.35,.45,
.5,.6,.7,.55,.4,.35,.5,.45,.6,.4,.35,.5,.45,.4,.55,.6,.45,.5,1.5,.8,
.7,.5,.45,.4,.55,.6,.8,.65,.45,.35,.5,.6,.8,.75,.85,.6,.45,.35,.3,.25];

const PANEL_LABELS = [
  ['thumb', 'MCP'], ['thumb', 'PIP'],
  ['Index', 'MCP'], ['Index', 'PIP'], ['Index', 'DIP'],
  ['Middle', 'MCP'], ['Middle', 'PIP'], ['Middle', 'DIP'],
  ['Ring', 'MCP'], ['Ring', 'PIP'], ['Ring', 'DIP'],
  ['Pinky', 'MCP'], ['Pinky', 'PIP'], ['Pinky', 'DIP'],
];
const Y_MIN = [-.54, -.66, -.64, -.59, -.26, -.63, -.48, -.19, -.69, -.43, -.06, -.21, -.18, -.29];
const Y_MAX = [1.26, 1.24, 1.2, 1.17, 1.18, 1.68, 1.68, 1.69, 1.38, 1.17, 1.55, 1.36, 1.39, 1.71];

const TRUTH = [THUMB_MCP_TRUTH, THUMB_PIP_TRUTH, INDEX_MCP_TRUTH, INDEX_PIP_TRUTH, INDEX_DIP_TRUTH,
  MIDDLE_MCP_TRUTH, MIDDLE_PIP_TRUTH, MIDDLE_DIP_TRUTH, RING_MCP_TRUTH, RING_PIP_TRUTH, RING_DIP_TRUTH,
  PINKY_MCP_TRUTH, PINKY_PIP_TRUTH, PINKY_DIP_TRUTH];
const NAIVE = [THUMB_MCP_NAIVE, THUMB_PIP_NAIVE, INDEX_MCP_NAIVE, INDEX_PIP_NAIVE, INDEX_DIP_NAIVE,
  MIDDLE_MCP_NAIVE, MIDDLE_PIP_NAIVE, MIDDLE_DIP_NAIVE, RING_MCP_NAIVE, RING_PIP_NAIVE, RING_DIP_NAIVE,
  PINKY_MCP_NAIVE, PINKY_PIP_NAIVE, PINKY_DIP_NAIVE];
const ATT = [THUMB_MCP_ATT, THUMB_PIP_ATT, INDEX_MCP_ATT, INDEX_PIP_ATT, INDEX_DIP_ATT,
  MIDDLE_MCP_ATT, MIDDLE_PIP_ATT, MIDDLE_DIP_ATT, RING_MCP_ATT, RING_PIP_ATT, RING_DIP_ATT,
  PINKY_MCP_ATT, PINKY_PIP_ATT, PINKY_DIP_ATT];

const FONT = '"DejaVu Sans", sans-serif';
const W = 1393;
const H = 900;
const TRUTH_COLOR = '#262626';
const NAIVE_COLOR = '#ff2b2b';
const ATT_COLOR = '#1f9a2a';

const framePlugin = {
  id: 'frame',
  afterDatasetsDraw(chart: any) {
    const { ctx, chartArea } = chart;
    const { left, right, top, bottom } = chartArea;
    const xs = chart.scales.x;
    ctx.save();
    ctx.strokeStyle = '#6c6c6c';
    ctx.lineWidth = 2;
    ctx.beginPath();
    ctx.moveTo(left, top - 1);
    ctx.lineTo(right, top - 1);
    ctx.moveTo(left, bottom + 1);
    ctx.lineTo(right, bottom + 1);
    ctx.stroke();
    ctx.strokeStyle = '#8a8a8a';
    ctx.lineWidth = 1.2;
    ctx.beginPath();
    ctx.moveTo(left - 0.5, top - 2);
    ctx.lineTo(left - 0.5, bottom + 2);
    ctx.stroke();
    // small x tick marks on the lower spine (labels only on the last panel)
    ctx.strokeStyle = '#555';
    ctx.lineWidth = 1;
    ctx.beginPath();
    X_TICKS.forEach((v) => {
      const px = Math.round(xs.getPixelForValue(v)) + 0.5;
      ctx.moveTo(px, bottom + 2);
      ctx.lineTo(px, bottom + 4);
    });
    ctx.stroke();
    ctx.restore();
  },
};

const overlayPlugin = {
  id: 'overlay',
  afterDraw(chart: any) {
    const ctx = chart.ctx;
    ctx.save();
    ctx.fillStyle = '#222';
    ctx.font = `25px ${FONT}`;
    ctx.textAlign = 'center';
    ctx.textBaseline = 'middle';
    ctx.fillText(TITLE, 725, 21);
    ctx.fillStyle = '#ffffff';
    ctx.fillRect(1122, 52, 300, 107);
    ctx.strokeStyle = '#1c1c1c';
    ctx.lineWidth = 2;
    ctx.strokeRect(1122, 52, 300, 107);
    const rows = [71.5, 107, 142.5];
    const lineColors = ['#111111', '#ff1f1f', '#17a34a'];
    const textColors = ['#111111', '#ff2a2a', '#22a85e'];
    const widths = [4, 3.5, 3.5];
    ctx.textAlign = 'left';
    ctx.font = `18px ${FONT}`;
    for (let k = 0; k < 3; k++) {
      ctx.strokeStyle = lineColors[k];
      ctx.lineWidth = widths[k];
      ctx.beginPath();
      ctx.moveTo(1143, rows[k]);
      ctx.lineTo(1223, rows[k]);
      ctx.stroke();
      ctx.fillStyle = textColors[k];
      ctx.fillText(LEGEND_LABELS[k], 1240, rows[k]);
    }
    ctx.restore();
  },
};

function makeConfig(i: number) {
  const last = i === PANEL_LABELS.length - 1;
  const top = Math.round(47 + 57.5 * i) + 2;
  const bottom = Math.round(47 + 57.5 * (i + 1)) - 2;
  const xScale: any = {
    type: 'linear',
    min: -250,
    max: 5250,
    display: last,
    afterBuildTicks: (s: any) => { s.ticks = X_TICKS.map((v) => ({ value: v })); },
    grid: { drawOnChartArea: false, drawTicks: true, tickLength: 4, color: '#555' },
    border: { display: false },
    ticks: {
      font: { family: FONT, size: 12 }, color: '#444', padding: 5, maxRotation: 0, autoSkip: false,
      callback: (v: any) => String(v),
    },
    title: { display: true, text: X_TITLE, color: '#222', font: { family: FONT, size: 19 }, padding: { top: 0, bottom: 3 } },
  };
  if (last) xScale.afterFit = (s: any) => { s.height = H - bottom; };
  return {
    type: 'line',
    data: {
      datasets: [
        {
          label: LEGEND_LABELS[2],
          data: TIME_50.map((x, k) => ({ x, y: ATT[i][k] })),
          borderColor: ATT_COLOR,
          borderWidth: 1.3,
          pointRadius: 0,
          tension: 0.25,
          order: 0,
        },
        {
          label: LEGEND_LABELS[1],
          data: TIME_25.map((x, k) => ({ x, y: NAIVE[i][k] })),
          borderColor: NAIVE_COLOR,
          borderWidth: 1,
          pointRadius: 0,
          tension: 0,
          order: 1,
        },
        {
          label: LEGEND_LABELS[0],
          data: TIME_50.map((x, k) => ({ x, y: TRUTH[i][k] })),
          borderColor: TRUTH_COLOR,
          borderWidth: 1.5,
          pointRadius: 0,
          cubicInterpolationMode: 'monotone',
          order: 2,
        },
      ],
    },
    options: {
      responsive: false,
      animation: false,
      events: [],
      layout: { padding: { top, bottom: last ? 0 : H - bottom, left: 0, right: 0 } },
      plugins: { legend: { display: false }, tooltip: { enabled: false }, title: { display: false } },
      scales: {
        x: xScale,
        y: {
          min: Y_MIN[i],
          max: Y_MAX[i],
          afterBuildTicks: (s: any) => { s.ticks = Y_TICKS.map((v) => ({ value: v })); },
          afterFit: (s: any) => { s.width = 75; },
          grid: { drawOnChartArea: false, drawTicks: true, tickLength: 4, color: '#555' },
          border: { display: false },
          ticks: { font: { family: FONT, size: 12 }, color: '#444', padding: 5, callback: (v: any) => String(v) },
          title: {
            display: true,
            text: PANEL_LABELS[i],
            color: '#222',
            font: { family: FONT, size: 15, lineHeight: 1.12 },
            padding: { top: 16, bottom: 0 },
          },
        },
      },
    },
    plugins: i === 0 ? [framePlugin, overlayPlugin] : [framePlugin],
  };
}

export default function App() {
  const refs = useRef<(HTMLCanvasElement | null)[]>([]);

  useEffect(() => {
    Chart.defaults.font.family = FONT;
    const charts: Chart[] = [];
    PANEL_LABELS.forEach((_, i) => {
      const c = refs.current[i];
      if (c) charts.push(new Chart(c, makeConfig(i) as any));
    });
    return () => charts.forEach((ch) => ch.destroy());
  }, []);

  return (
    <div style={{ position: 'fixed', left: 0, top: 0, width: 1375, height: 900, overflow: 'hidden', background: '#fff' }}>
      {PANEL_LABELS.map((_, i) => (
        <canvas
          key={i}
          ref={(el) => { refs.current[i] = el; }}
          width={W}
          height={H}
          style={{ position: 'absolute', left: 0, top: 0, width: W, height: H, zIndex: 20 - i }}
        />
      ))}
    </div>
  );
}
